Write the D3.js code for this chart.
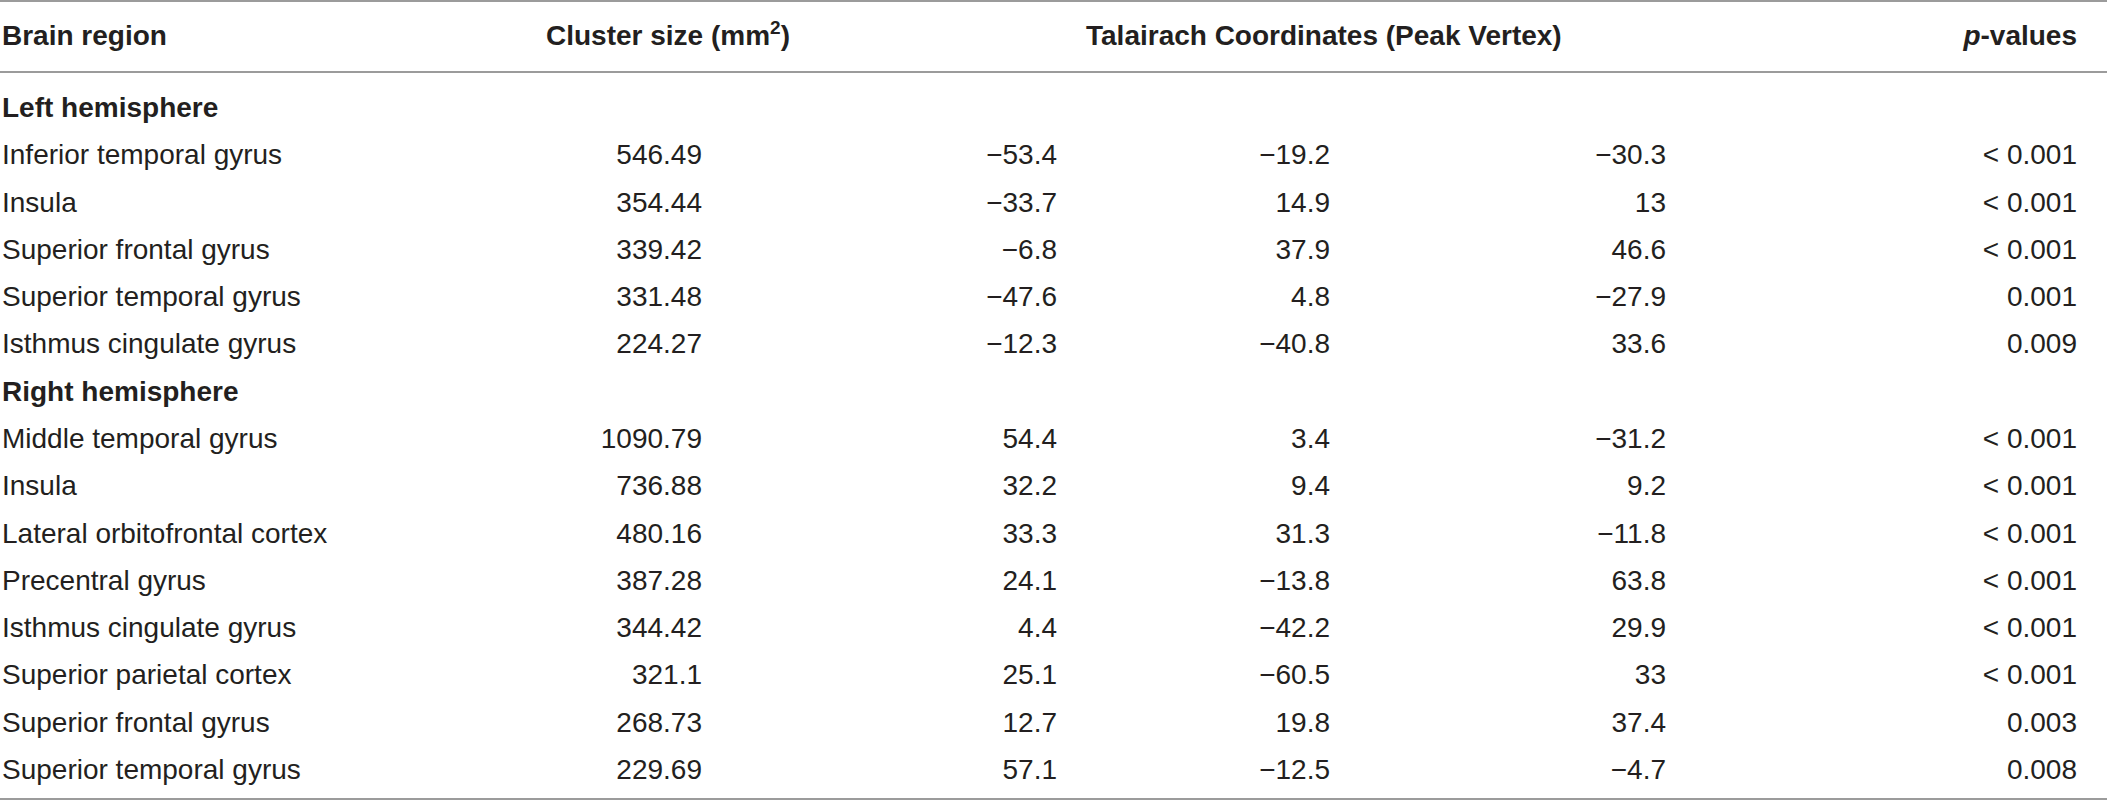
<!DOCTYPE html>
<html>
<head>
<meta charset="utf-8">
<script src="https://cdn.jsdelivr.net/npm/d3@7"></script>
<style>
  body { margin: 0; background: #fff; }
  svg text { font-family: "Liberation Sans", Arial, Helvetica, sans-serif; fill: #231f20; }
</style>
</head>
<body>
<div id="chart"></div>
<script>
// table contents
const groups = ["Left hemisphere", "Right hemisphere"];
const regions = [
    ["Inferior temporal gyrus", "Insula", "Superior frontal gyrus", "Superior temporal gyrus", "Isthmus cingulate gyrus"],
    ["Middle temporal gyrus", "Insula", "Lateral orbitofrontal cortex", "Precentral gyrus", "Isthmus cingulate gyrus",
     "Superior parietal cortex", "Superior frontal gyrus", "Superior temporal gyrus"]
];
const clusterSize = [
    ["546.49", "354.44", "339.42", "331.48", "224.27"],
    ["1090.79", "736.88", "480.16", "387.28", "344.42", "321.1", "268.73", "229.69"]
];
const coordX = [
    [-53.4, -33.7, -6.8, -47.6, -12.3],
    [54.4, 32.2, 33.3, 24.1, 4.4, 25.1, 12.7, 57.1]
];
const coordY = [
    [-19.2, 14.9, 37.9, 4.8, -40.8],
    [3.4, 9.4, 31.3, -13.8, -42.2, -60.5, 19.8, -12.5]
];
const coordZ = [
    [-30.3, 13, 46.6, -27.9, 33.6],
    [-31.2, 9.2, -11.8, 63.8, 29.9, 33, 37.4, -4.7]
];
const pValues = [
    ["< 0.001", "< 0.001", "< 0.001", "0.001", "0.009"],
    ["< 0.001", "< 0.001", "< 0.001", "< 0.001", "< 0.001", "< 0.001", "0.003", "0.008"]
];

const WIDTH = 2107, HEIGHT = 806;
const FONT_SIZE = 28;

// flatten groups + rows into one list of table lines
const rows = [];
groups.forEach((g, gi) => {
    rows.push({type: 'group', label: g});
    regions[gi].forEach((r, i) => {
        rows.push({
            type: 'row', label: r,
            values: [clusterSize[gi][i], coordX[gi][i], coordY[gi][i], coordZ[gi][i], pValues[gi][i]]
        });
    });
});

// numbers use a real minus sign like the print version
const fmt = v => typeof v === 'number' ? (v < 0 ? '\u2212' + Math.abs(v) : String(v)) : v;

// vertical position of each line (baselines)
const y = d3.scaleLinear()
    .domain([0, rows.length - 1])
    .range([117, 779]);

// right edges of the value columns
const colX = d3.scaleOrdinal()
    .domain(['cluster', 'x', 'y', 'z', 'p'])
    .range([702, 1057, 1330, 1666, 2077]);
const colKeys = colX.domain();

const svg = d3.select('#chart')
    .append('svg')
    .attr('width', WIDTH)
    .attr('height', HEIGHT);

// rules: top, under header, bottom
svg.selectAll('.rule')
    .data([1, 72, 799])
    .enter()
    .append('line')
    .classed('rule', true)
    .attr('x1', 0)
    .attr('x2', WIDTH)
    .attr('y1', d => d)
    .attr('y2', d => d)
    .attr('stroke', '#9b9b9b')
    .attr('stroke-width', 2);

// header
const header = svg.append('g')
    .attr('font-size', FONT_SIZE)
    .attr('font-weight', 'bold');

header.append('text')
    .attr('x', 2)
    .attr('y', 45)
    .text('Brain region');

const cs = header.append('text')
    .attr('x', 546)
    .attr('y', 45);
cs.append('tspan').text('Cluster size (mm');
cs.append('tspan').attr('font-size', 19).attr('dy', -11).text('2');
cs.append('tspan').attr('dy', 11).text(')');

header.append('text')
    .attr('x', 1086)
    .attr('y', 45)
    .text('Talairach Coordinates (Peak Vertex)');

const pv = header.append('text')
    .attr('x', colX('p'))
    .attr('y', 45)
    .attr('text-anchor', 'end');
pv.append('tspan').attr('font-style', 'italic').text('p');
pv.append('tspan').text('-values');

// body
const body = svg.append('g').attr('font-size', FONT_SIZE);

body.selectAll('.label')
    .data(rows)
    .enter()
    .append('text')
    .classed('label', true)
    .attr('x', 2)
    .attr('y', (d, i) => y(i))
    .attr('font-weight', d => d.type === 'group' ? 'bold' : null)
    .text(d => d.label);

const cells = [];
rows.forEach((r, i) => {
    if (r.type !== 'row') return;
    r.values.forEach((v, j) => cells.push({row: i, col: colKeys[j], value: v}));
});

body.selectAll('.cell')
    .data(cells)
    .enter()
    .append('text')
    .classed('cell', true)
    .attr('x', d => colX(d.col))
    .attr('y', d => y(d.row))
    .attr('text-anchor', 'end')
    .text(d => fmt(d.value));
</script>
</body>
</html>
